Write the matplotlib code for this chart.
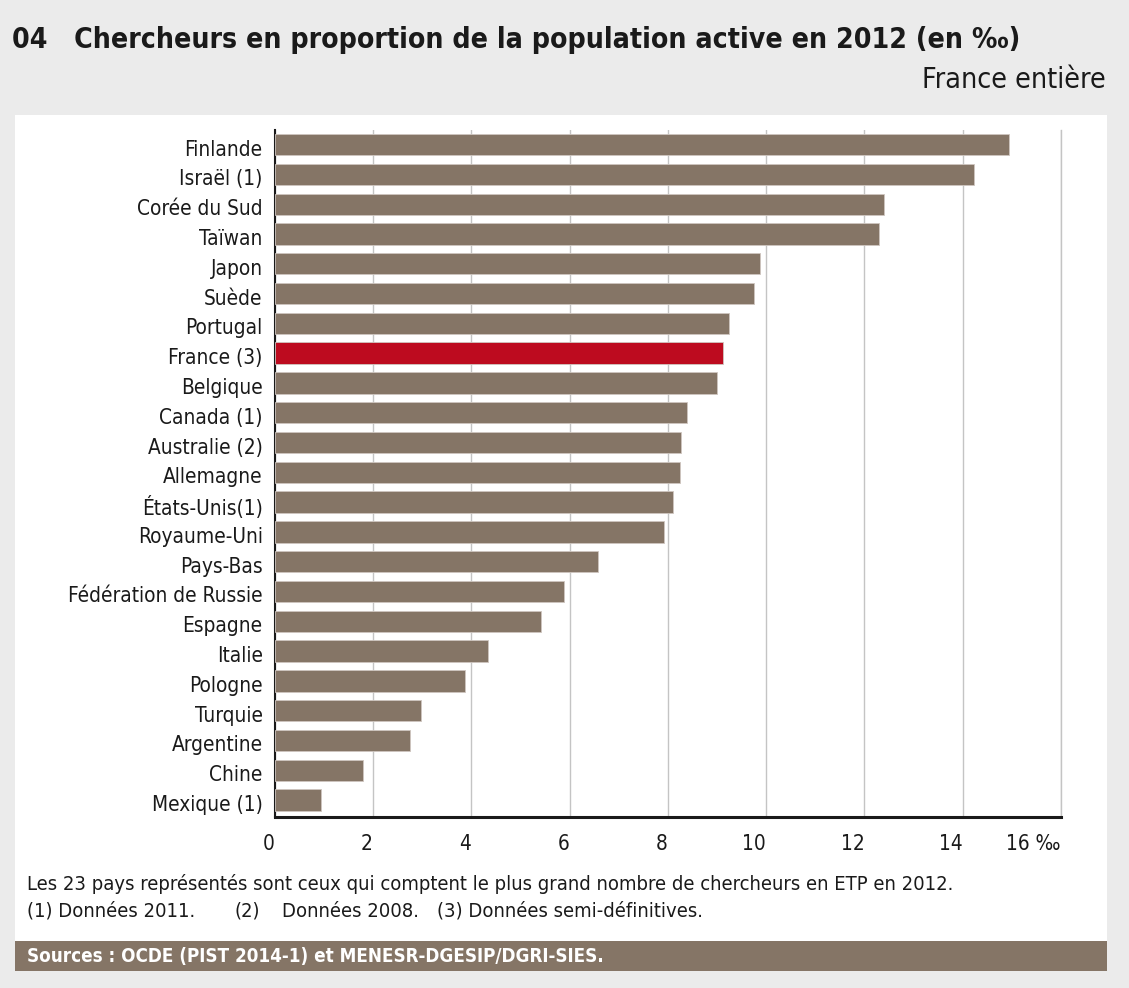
import matplotlib
matplotlib.use("Agg")
import matplotlib.pyplot as plt
from matplotlib.patches import Rectangle
from matplotlib import font_manager
from matplotlib.font_manager import FontProperties
from matplotlib.transforms import ScaledTranslation

# ---------------- data ----------------
countries = ["Finlande", "Israël (1)", "Corée du Sud", "Taïwan", "Japon", "Suède",
             "Portugal", "France (3)", "Belgique", "Canada (1)", "Australie (2)",
             "Allemagne", "États-Unis(1)", "Royaume-Uni", "Pays-Bas",
             "Fédération de Russie", "Espagne", "Italie", "Pologne", "Turquie",
             "Argentine", "Chine", "Mexique (1)"]
values = [14.95, 14.23, 12.40, 12.30, 9.88, 9.75, 9.24, 9.12, 9.01, 8.40, 8.26,
          8.24, 8.10, 7.93, 6.58, 5.88, 5.42, 4.34, 3.87, 2.97, 2.75, 1.79, 0.95]
highlight = "France (3)"
xticks = [0, 2, 4, 6, 8, 10, 12, 14, 16]
xticklabels = ["0", "2", "4", "6", "8", "10", "12", "14", "16 ‰"]

# ---------------- fonts ----------------
def find_condensed(bold):
    best = None
    for f in font_manager.fontManager.ttflist:
        nm = f.name.lower()
        st = str(f.stretch).lower()
        is_cond = ("narrow" in nm or "condensed" in nm or "condensed" in st or "narrow" in f.fname.lower()
                   or "condensed" in f.fname.lower())
        if not is_cond or f.style != "normal":
            continue
        w = f.weight if isinstance(f.weight, int) else (700 if "bold" in str(f.weight) else 400)
        if bold and w < 600:
            continue
        if not bold and (w >= 600 or w < 350):
            continue
        if "extra" in st or "ultra" in st or "extra" in nm:
            continue
        best = f.fname
        if "liberation" in nm or "sans" in nm:
            break
    return best

reg_file = find_condensed(False)
bold_file = find_condensed(True)
if reg_file:
    FP_REG = FontProperties(fname=reg_file)
else:
    FP_REG = FontProperties(family=["Liberation Sans", "DejaVu Sans"])
if bold_file:
    FP_BOLD = FontProperties(fname=bold_file)
else:
    FP_BOLD = FontProperties(family=["Liberation Sans", "DejaVu Sans"], weight="bold")

BG = "#ebebeb"
BROWN = "#857566"
RED = "#bd0b1f"
INK = "#1a1a1a"
GRID = "#c4c4c4"
W, H = 1129, 988

fig = plt.figure(figsize=(W / 100, H / 100), dpi=100, facecolor=BG)
renderer = fig.canvas.get_renderer()

def fx(px): return px / W
def fy(py): return 1 - py / H

def fitted_size(s, target_px, fp, base=20.0):
    t = fig.text(0, 0, s, fontproperties=fp, fontsize=base)
    w = t.get_window_extent(renderer=renderer).width
    t.remove()
    return base * target_px / w

def put(xpx, ypx, s, target_w, fp, color=INK, ha="left", size=None):
    sz = size if size else fitted_size(s, target_w, fp)
    p = fp.copy()
    p.set_size(sz)
    fig.text(fx(xpx), fy(ypx), s, fontproperties=p, color=color, va="center", ha=ha)
    return sz

# white panel and sources band
fig.patches.append(Rectangle((fx(15), fy(941)), fx(1107) - fx(15), fy(115) - fy(941),
                             transform=fig.transFigure, facecolor="white", edgecolor="none", zorder=-10))
fig.patches.append(Rectangle((fx(15), fy(971)), fx(1107) - fx(15), fy(941) - fy(971),
                             transform=fig.transFigure, facecolor=BROWN, edgecolor="none", zorder=-10))

ax = fig.add_axes([fx(274.6), fy(817), fx(1061) - fx(274.6), fy(130) - fy(817)])
ax.set_zorder(1)
ax.set_facecolor("white")
ypos = list(range(len(countries)))
colors = [RED if c == highlight else BROWN for c in countries]
ax.barh(ypos, values, height=0.715, color=colors, edgecolor="#cfc6c0", linewidth=0.6, zorder=3)
ax.set_ylim(22.57, -0.49)
ax.set_xlim(0, 16)

label_size = fitted_size("Fédération de Russie", 194, FP_REG)
fp_lab = FP_REG.copy(); fp_lab.set_size(label_size)
ax.set_yticks(ypos)
ax.set_yticklabels(countries, fontproperties=fp_lab, color=INK)
ax.set_xticks(xticks)
ax.set_xticklabels(xticklabels, fontproperties=fp_lab, color=INK, ha="right")
ax.tick_params(axis="y", length=0, pad=8.6)
ax.tick_params(axis="x", length=0, pad=12.5)
shift = ScaledTranslation(0, -3 / 100, fig.dpi_scale_trans)
for lab in ax.get_yticklabels():
    lab.set_transform(lab.get_transform() + shift)
ax.grid(axis="x", color=GRID, linewidth=1.0, zorder=0)
ax.set_axisbelow(True)
ax.spines["top"].set_visible(False)
ax.spines["right"].set_color(GRID)
ax.spines["right"].set_linewidth(1.0)
ax.spines["left"].set_color(INK)
ax.spines["left"].set_linewidth(1.5)
ax.spines["bottom"].set_color(INK)
ax.spines["bottom"].set_linewidth(2.2)

# title
put(12, 40, "04   Chercheurs en proportion de la population active en 2012 (en ‰)", 1006, FP_BOLD)
put(1106, 80, "France entière", 184, FP_REG, ha="right")

# footnotes
fs = put(27, 884, "Les 23 pays représentés sont ceux qui comptent le plus grand nombre de chercheurs en ETP en 2012.",
         930, FP_REG)
put(27, 911, "(1) Données 2011.", 0, FP_REG, size=fs)
put(234, 911, "(2)", 0, FP_REG, size=fs)
put(282, 911, "Données 2008.", 0, FP_REG, size=fs)
put(437, 911, "(3) Données semi-définitives.", 0, FP_REG, size=fs)
put(27, 956, "Sources : OCDE (PIST 2014-1) et MENESR-DGESIP/DGRI-SIES.", 576, FP_BOLD, color="white")

fig.savefig("out.png", dpi=100, facecolor=BG)
